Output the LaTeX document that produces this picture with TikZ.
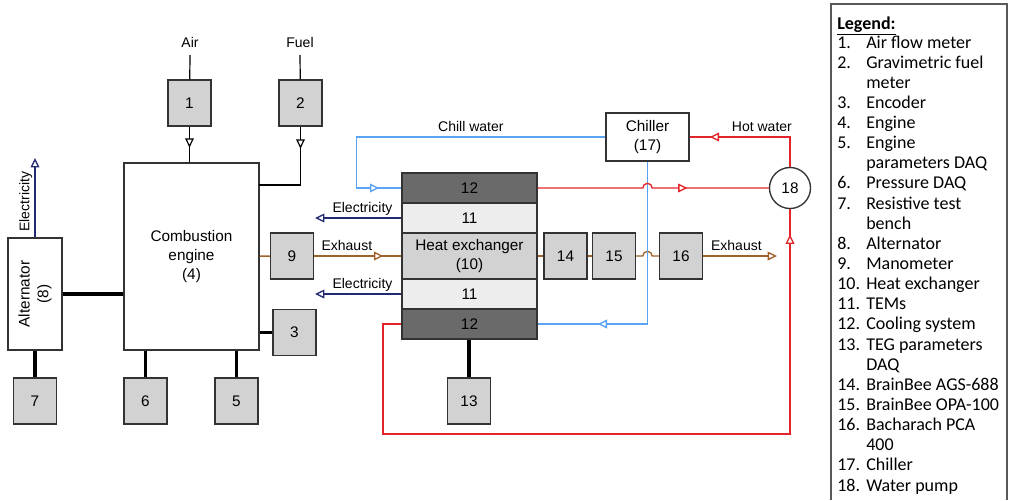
\documentclass[tikz,border=0pt]{standalone}
\usepackage{fontspec}
\setmainfont{Liberation Sans}
\newfontfamily\legfont{Carlito}
\usepackage{xcolor}
\usepackage{tikz}
\usetikzlibrary{arrows.meta,decorations.markings}
\definecolor{chill}{HTML}{5AA2F2}
\definecolor{hot}{HTML}{E2252B}
\definecolor{exhaust}{HTML}{A0622C}
\definecolor{navy}{HTML}{232A72}
\definecolor{boxgray}{HTML}{D2D2D2}
\definecolor{coolgray}{HTML}{6A6A6A}
\definecolor{temgray}{HTML}{EDEDED}
\definecolor{boxline}{HTML}{333333}

\begin{document}
\begin{tikzpicture}[x=0.75pt,y=-0.75pt,flowtip/.tip={Triangle[length=7pt,width=6.5pt,fill=white]},meter/.style={draw=boxline,fill=boxgray,line width=1pt,minimum width=32.25pt,minimum height=34.5pt,inner sep=0pt,font=\fontsize{11.5}{14}\selectfont},unit/.style={draw=boxline,fill=white,line width=1pt,align=center,inner sep=0pt,font=\fontsize{11.5}{14}\selectfont},layer/.style={draw=boxline,line width=1pt,minimum width=101.25pt,minimum height=22.5pt,align=center,inner sep=0pt,font=\fontsize{11.5}{14}\selectfont},lbl/.style={text=black,font=\fontsize{10.5}{12.6}\selectfont,inner sep=1.5pt,text height=7.6pt,text depth=2.2pt},wire/.style={draw=black,line width=0.9pt},shaft/.style={draw=black,line width=2.4pt},midtip/.style={postaction={decorate,decoration={markings,mark=at position #1 with {\arrow{flowtip}}}}},legtxt/.style={anchor=base west,inner sep=0pt,font=\legfont\fontsize{13.5}{16}\selectfont}]
\path[use as bounding box,fill=white] (0,0) rectangle (1010,500);
% engine side
\node[unit,minimum width=101.25pt,minimum height=140.25pt] (engine) at (191.5,256.5) {Combustion\\engine\\(4)};
\node[unit,rotate=90,minimum width=84pt,minimum height=40.5pt] (alt) at (35,294) {Alternator\\(8)};
\node[meter] (m1) at (189.5,103) {1};
\node[meter] (m2) at (300.5,103) {2};
\node[meter] (m3) at (294.5,332.5) {3};
\node[meter] (m5) at (236.5,401) {5};
\node[meter] (m6) at (145.5,401) {6};
\node[meter] (m7) at (35,401) {7};
\node[meter] (m9) at (292,256) {9};
% heat exchanger stack
\node[layer,fill=coolgray] (c12a) at (469.5,188) {12};
\node[layer,fill=temgray] (c11a) at (469.5,218) {11};
\node[layer,fill=boxgray,minimum height=34.5pt] (hx) at (469.5,256) {Heat exchanger\\(10)};
\node[layer,fill=temgray] (c11b) at (469.5,294) {11};
\node[layer,fill=coolgray] (c12b) at (469.5,324) {12};
\node[meter] (m13) at (469,401) {13};
\node[meter] (m14) at (565.5,256) {14};
\node[meter] (m15) at (614,256) {15};
\node[meter] (m16) at (681,256) {16};
\node[unit,minimum width=62.25pt,minimum height=36pt] (chiller) at (647.5,137) {Chiller\\(17)};
\node[unit,circle,minimum size=30.75pt] (pump) at (790,188) {18};
\coordinate (airin) at (190,55);
\coordinate (fuelin) at (300,55);
\coordinate (engfuel) at (259,185);
\coordinate (altout) at (35,158);
\coordinate (eout1) at (315,218);
\coordinate (eout2) at (315,294);
\coordinate (exout) at (777,256);
\coordinate (retcorner) at (383,434);
\coordinate (hopR) at (chiller.south |- c12a.east);
\coordinate (hopB) at (chiller.south |- m15);
\node[lbl,above=1.5pt] at (airin) {Air};
\node[lbl,above=1.5pt] at (fuelin) {Fuel};
% air and fuel
\draw[wire] (airin) -- (m1);
\draw[wire] (fuelin) -- (m2);
\draw[wire,midtip=-11pt] (m1) -- (m1 |- engine.north);
\draw[wire,midtip=16.5pt] (m2) |- (engfuel);
% shafts and DAQ
\draw[shaft,line width=3pt] (alt) -- (alt -| engine.west);
\draw[shaft] (alt) -- (m7);
\draw[shaft] (m6) -- (m6 |- engine.south);
\draw[shaft] (m5) -- (m5 |- engine.south);
\draw[shaft] (m3) -- (m3 -| engine.east);
\draw[shaft] (m13) -- (m13 |- c12b.south);
% electricity
\draw[navy,line width=1pt,-{flowtip}] (alt) -- node[lbl,rotate=90,above,pos=0.45]{Electricity} (altout);
\draw[navy,line width=1pt,-{flowtip}] (c11a) -- node[lbl,above,pos=0.45]{Electricity} (eout1);
\draw[navy,line width=1pt,-{flowtip}] (c11b) -- node[lbl,above,pos=0.45]{Electricity} (eout2);
% exhaust line
\draw[exhaust,line width=1pt] (engine) -- (m9);
\draw[exhaust,line width=1pt,midtip=-13.5pt] (m9) -- node[lbl,above,pos=0.375]{Exhaust} (hx);
\draw[exhaust,line width=1pt] (hx) -- (m14);
\draw[exhaust,line width=1pt] (m14) -- (m15);
\draw[exhaust,line width=1pt] (m15) -- ([xshift=-3.5pt]hopB) arc[start angle=180,end angle=0,radius=3.5pt] -- (m16);
\draw[exhaust,line width=1pt,-{flowtip}] (m16) -- node[lbl,above,pos=0.45]{Exhaust} (exout);
% cooling water
\draw[chill,line width=1pt,midtip=-16.5pt] (chiller.west) -- node[lbl,above,pos=0.54]{Chill water} ++(-249,0) |- (c12a.west);
\draw[chill,line width=1pt,midtip=-45pt] (chiller.south) |- (c12b.east);
\draw[hot,line width=1pt,midtip=-61pt] (c12a.east) -- ([xshift=-3.5pt]hopR) arc[start angle=180,end angle=0,radius=3.5pt] -- (pump);
\draw[hot,line width=1pt,midtip=-15pt] (pump.north) |- node[lbl,above,pos=0.64]{Hot water} (chiller.east);
\draw[hot,line width=1pt,midtip=-19pt] (c12b.west) -| (retcorner) -| (pump.south);
% legend
\draw[draw=black!65,line width=1pt] (831,500) -- (831,4) -- (1007,4) -- (1007,500);
\node[legtxt] (legtitle) at (837,29) {\bfseries\underline{Legend:}};
\foreach \num/\txt [count=\k from 0] in {1./Air flow meter,2./Gravimetric fuel,/meter,3./Encoder,4./Engine,5./Engine,/parameters DAQ,6./Pressure DAQ,7./Resistive test,/bench,8./Alternator,9./Manometer,10./Heat exchanger,11./TEMs,12./Cooling system,13./TEG parameters,/DAQ,14./BrainBee AGS-688,15./BrainBee OPA-100,16./Bacharach PCA,/400,17./Chiller,18./Water pump}{
  \node[legtxt] (legnum\k) at (837,48+20.14*\k) {\num};
  \node[legtxt] (leg\k) at (866,48+20.14*\k) {\txt};
}
\end{tikzpicture}
\end{document}
